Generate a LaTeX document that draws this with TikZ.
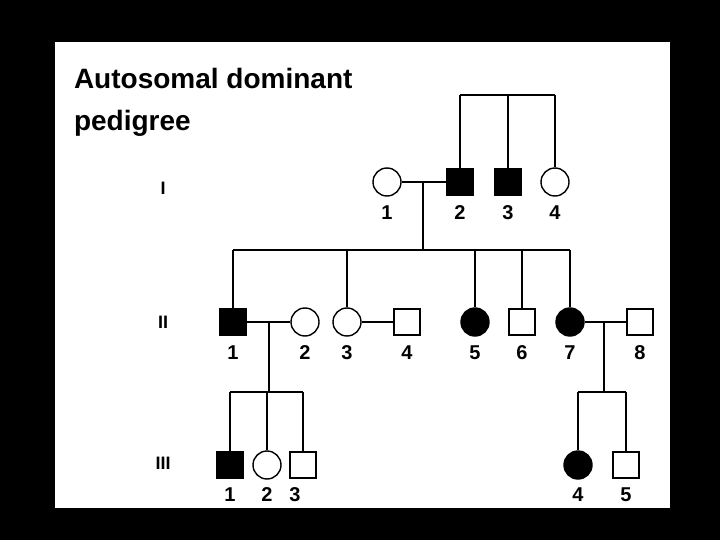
\documentclass[tikz,border=0pt]{standalone}
\usepackage{fontspec}
\setmainfont{Liberation Sans}
\begin{document}
\begin{tikzpicture}[x=1pt,y=-1pt,line width=1.4pt,
  m/.style={draw,minimum size=26pt,inner sep=0pt,fill=white},
  f/.style={draw,circle,minimum size=28pt,inner sep=0pt,fill=white},
  aff/.style={fill=black},
  lab/.style={font=\bfseries\fontsize{20}{22}\selectfont},
  gen/.style={font=\bfseries\fontsize{18}{20}\selectfont}]
\fill[black] (0,0) rectangle (720,540);
\fill[white] (55,42) rectangle (670,508);
\useasboundingbox (0,0) rectangle (720,540);
\node[anchor=north west,align=left,font=\bfseries\fontsize{28}{42}\selectfont] (title) at (70,64) {Autosomal dominant\\pedigree};
\node[gen] (gI) at (163,188) {I};
\node[gen] (gII) at (163,322) {II};
\node[gen] (gIII) at (163,463) {III};
% generation I
\node[f] (i1) at (387,182) {};
\node[m,aff] (i2) at (460,182) {};
\node[m,aff] (i3) at (508,182) {};
\node[f] (i4) at (555,182) {};
\coordinate (s0a) at (460,95); \coordinate (s0b) at (508,95); \coordinate (s0c) at (555,95);
\draw (s0a) -- (s0c); \draw (s0a) -- (i2); \draw (s0b) -- (i3); \draw (s0c) -- (i4);
\draw (i1) -- (i2);
\coordinate (d1) at (423,182); \coordinate (d1b) at (423,250);
\draw (d1) -- (d1b);
% generation II
\node[m,aff] (ii1) at (233,322) {};
\node[f] (ii2) at (305,322) {};
\node[f] (ii3) at (347,322) {};
\node[m] (ii4) at (407,322) {};
\node[f,aff] (ii5) at (475,322) {};
\node[m] (ii6) at (522,322) {};
\node[f,aff] (ii7) at (570,322) {};
\node[m] (ii8) at (640,322) {};
\coordinate (s1a) at (233,250); \coordinate (s1b) at (347,250); \coordinate (s1c) at (475,250);
\coordinate (s1d) at (522,250); \coordinate (s1e) at (570,250);
\draw (s1a) -- (s1e);
\draw (s1a) -- (ii1); \draw (s1b) -- (ii3); \draw (s1c) -- (ii5); \draw (s1d) -- (ii6); \draw (s1e) -- (ii7);
\draw (ii1) -- (ii2); \draw (ii3) -- (ii4); \draw (ii7) -- (ii8);
% generation III
\node[m,aff] (iii1) at (230,465) {};
\node[f] (iii2) at (267,465) {};
\node[m] (iii3) at (303,465) {};
\node[f,aff] (iii4) at (578,465) {};
\node[m] (iii5) at (626,465) {};
\coordinate (d2) at (269,322); \coordinate (d2b) at (269,392);
\coordinate (s2a) at (230,392); \coordinate (s2b) at (267,392); \coordinate (s2c) at (303,392);
\draw (d2) -- (d2b); \draw (s2a) -- (s2c);
\draw (s2a) -- (iii1); \draw (s2b) -- (iii2); \draw (s2c) -- (iii3);
\coordinate (d3) at (604,322); \coordinate (d3b) at (604,392);
\coordinate (s3a) at (578,392); \coordinate (s3b) at (626,392);
\draw (d3) -- (d3b); \draw (s3a) -- (s3b);
\draw (s3a) -- (iii4); \draw (s3b) -- (iii5);
% labels
\foreach \n/\x in {1/387,2/460,3/508,4/555} \node[lab] (lI\n) at (\x,213) {\n};
\foreach \n/\x in {1/233,2/305,3/347,4/407,5/475,6/522,7/570,8/640} \node[lab] (lII\n) at (\x,353) {\n};
\foreach \n/\x in {1/230,2/267,3/295,4/578,5/626} \node[lab] (lIII\n) at (\x,495) {\n};
\end{tikzpicture}
\end{document}
